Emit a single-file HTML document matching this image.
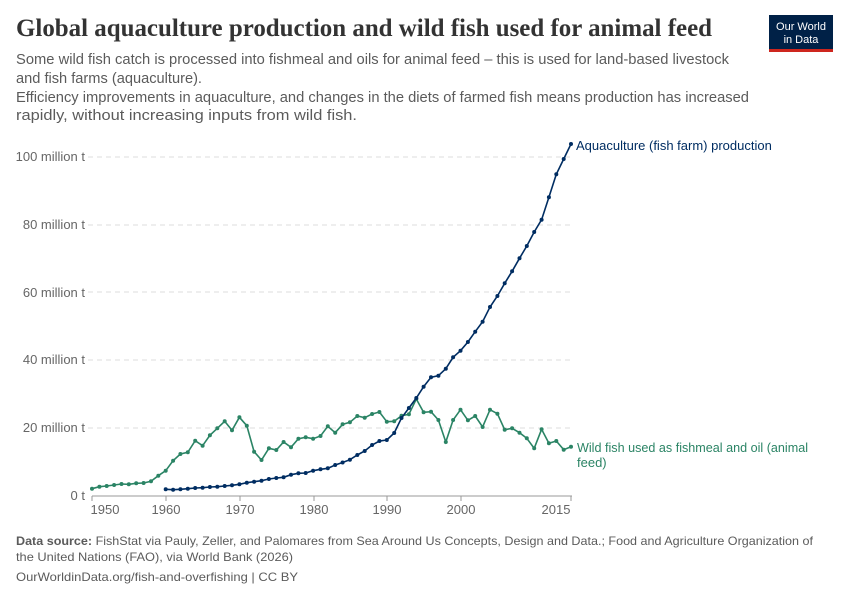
<!DOCTYPE html>
<html><head><meta charset="utf-8"><style>
body{margin:0;background:#fff;width:850px;height:600px;overflow:hidden}
svg{display:block}
text{font-family:"Liberation Sans",sans-serif}
</style></head><body>
<svg id="s" width="850" height="600" xmlns="http://www.w3.org/2000/svg">
<text x="16" y="36" font-weight="bold" font-size="25" fill="#333" textLength="696" lengthAdjust="spacingAndGlyphs" style="font-family:'Liberation Serif',serif">Global aquaculture production and wild fish used for animal feed</text>
<g font-size="14.5" fill="#5b5b5b">
<text x="16" y="64" textLength="713" lengthAdjust="spacingAndGlyphs">Some wild fish catch is processed into fishmeal and oils for animal feed – this is used for land-based livestock</text>
<text x="16" y="83" textLength="186" lengthAdjust="spacingAndGlyphs">and fish farms (aquaculture).</text>
<text x="16" y="102" textLength="733" lengthAdjust="spacingAndGlyphs">Efficiency improvements in aquaculture, and changes in the diets of farmed fish means production has increased</text>
<text x="16" y="120" textLength="341" lengthAdjust="spacingAndGlyphs">rapidly, without increasing inputs from wild fish.</text>
</g>
<rect x="769" y="15" width="64" height="35" fill="#002147"/>
<rect x="769" y="49" width="64" height="3" fill="#ce261e"/>
<text x="801" y="30" font-size="11" fill="#fff" text-anchor="middle">Our World</text>
<text x="801" y="43" font-size="11" fill="#fff" text-anchor="middle">in Data</text>
<g stroke="#ddd" stroke-dasharray="5,4" stroke-width="1">
<line x1="88" x2="572" y1="428" y2="428"/><line x1="88" x2="572" y1="360" y2="360"/>
<line x1="88" x2="572" y1="292" y2="292"/><line x1="88" x2="572" y1="225" y2="225"/>
<line x1="88" x2="572" y1="157" y2="157"/></g>
<line x1="92" x2="572" y1="496" y2="496" stroke="#999"/>
<g stroke="#999"><line x1="92" x2="92" y1="496" y2="501"/><line x1="166" x2="166" y1="496" y2="501"/><line x1="240" x2="240" y1="496" y2="501"/><line x1="314" x2="314" y1="496" y2="501"/><line x1="387" x2="387" y1="496" y2="501"/><line x1="461" x2="461" y1="496" y2="501"/><line x1="571" x2="571" y1="496" y2="501"/></g>
<g font-size="13" fill="#666" text-anchor="end">
<text x="85" y="500">0 t</text><text x="85" y="432">20 million t</text><text x="85" y="364">40 million t</text><text x="85" y="297">60 million t</text><text x="85" y="229">80 million t</text><text x="85" y="161">100 million t</text></g>
<g font-size="13" fill="#666" text-anchor="middle">
<text x="105" y="514">1950</text><text x="166" y="514">1960</text><text x="240" y="514">1970</text><text x="314" y="514">1980</text><text x="387" y="514">1990</text><text x="461" y="514">2000</text><text x="556" y="514">2015</text></g>
<text x="576" y="150" font-size="13" fill="#002d62">Aquaculture (fish farm) production</text>
<text x="577" y="452" font-size="13" fill="#2b8465" textLength="231" lengthAdjust="spacingAndGlyphs">Wild fish used as fishmeal and oil (animal</text>
<text x="577" y="467" font-size="13" fill="#2b8465">feed)</text>
<g font-size="12" fill="#5b5b5b">
<text x="16" y="545" textLength="797" lengthAdjust="spacingAndGlyphs"><tspan font-weight="bold">Data source:</tspan> FishStat via Pauly, Zeller, and Palomares from Sea Around Us Concepts, Design and Data.; Food and Agriculture Organization of</text>
<text x="16" y="561" textLength="277" lengthAdjust="spacingAndGlyphs">the United Nations (FAO), via World Bank (2026)</text>
<text x="16" y="581" textLength="282" lengthAdjust="spacingAndGlyphs">OurWorldinData.org/fish-and-overfishing | CC BY</text></g>
<g id="g"></g>
</svg>
<script>
var G=[488.7,486.7,486,485,484,484.3,483.3,483,481.3,475.7,470.7,460.7,454,452.3,440.7,445.7,435.3,428.3,421.3,430.3,417.3,425.7,451.7,460,448.3,450,442,447.3,438.7,437.3,438.7,436,426.3,432.7,424.3,422.3,416,417.7,414,412,421.7,421.3,415.7,414.3,399,412.3,411.7,420,442,420,409.7,420.3,416,427,409.7,413.7,429.7,428.3,432.7,438.3,448.3,429.3,443.3,441,449.7,446.7];
var A=[489.3,489.7,489.3,488.7,488,487.7,487,486.7,486,485.3,484.3,482.7,481.7,480.7,479,478,477.3,474.7,473.3,473,470.7,469.3,468.3,465,462.5,459.7,455,451,445,441,440,433,418,408,398,386.7,377.3,375.7,368.7,357.3,350.7,342,331.7,321.7,307,296,283.3,271.3,258.3,246,232,219.7,197.3,174.3,159,144];
function draw(d,y0,c){var g=document.getElementById('g'),p=[],h='';
for(var i=0;i<d.length;i++){var x=92+7.37*(y0+i-1950);p.push(x.toFixed(1)+','+d[i]);h+='<circle cx="'+x.toFixed(1)+'" cy="'+d[i]+'" r="2" fill="'+c+'"/>';}
g.innerHTML+='<polyline points="'+p.join(' ')+'" fill="none" stroke="'+c+'" stroke-width="1.6"/>'+h;}
draw(G,1950,'#2b8465');draw(A,1960,'#002d62');
</script>
</body></html>
